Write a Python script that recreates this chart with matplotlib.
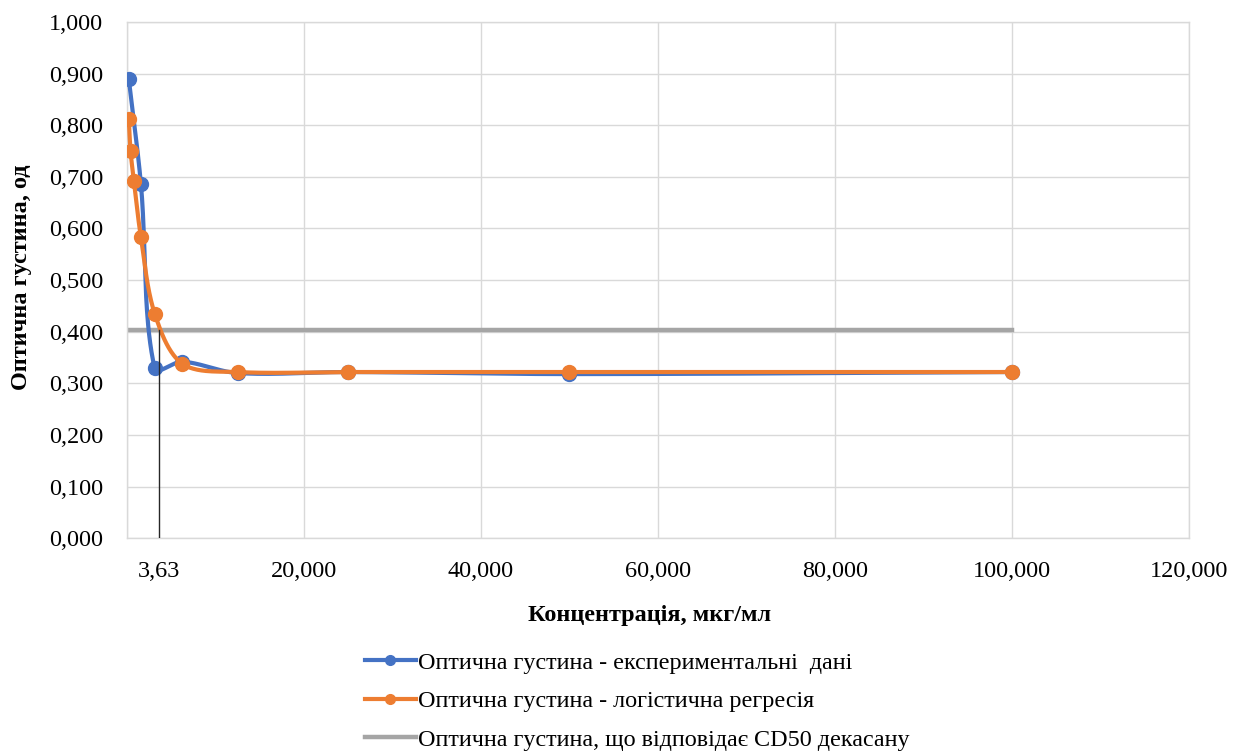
import matplotlib.pyplot as plt
import numpy as np
from matplotlib.ticker import FuncFormatter

plt.rcParams['font.family'] = ['Liberation Serif', 'DejaVu Serif']

# concentration, ug/ml and optical density
conc_exp = [0.195, 1.5625, 3.125, 6.25, 12.5, 25, 50, 100]
od_exp = [0.889, 0.686, 0.329, 0.342, 0.320, 0.322, 0.318, 0.322]

conc_fit = [0.195, 0.39, 0.78, 1.5625, 3.125, 6.25, 12.5, 25, 50, 100]
od_fit = [0.812, 0.750, 0.691, 0.583, 0.435, 0.338, 0.322, 0.322, 0.322, 0.322]

cd50_conc = 3.63
cd50_od = 0.404
cd50_range = [0, 100]

labels = [
    "Оптична густина - експериментальні  дані",
    "Оптична густина - логістична регресія",
    "Оптична густина, що відповідає CD50 декасану",
]

BLUE = "#4472C4"
ORANGE = "#ED7D31"
GRAY = "#A5A5A5"
GRID = "#D9D9D9"

# rough pixel size of one data unit, used only to weight the smoothing
PX = np.array([8.85, 517.0])


def smooth(x, y, n=40):
    """Smoothed line through the points (bezier, tangents weighted by chord length)."""
    p = np.column_stack([x, y]).astype(float)
    ext = np.vstack([p[0], p, p[-1]])
    out = []
    t = np.linspace(0, 1, n)[:, None]

    def ctrl(a, b, c, forward):
        la = np.linalg.norm((b - a) * PX)
        lc = np.linalg.norm((c - b) * PX)
        if la + lc == 0:
            return b
        w = (lc if forward else la) / (la + lc)
        d = (c - a) * w / 3
        return b + d if forward else b - d

    for i in range(len(p) - 1):
        p0, p1, p2, p3 = ext[i], ext[i + 1], ext[i + 2], ext[i + 3]
        c1 = ctrl(p0, p1, p2, True)
        c2 = ctrl(p1, p2, p3, False)
        seg = ((1 - t) ** 3) * p1 + 3 * ((1 - t) ** 2) * t * c1 \
            + 3 * (1 - t) * t ** 2 * c2 + t ** 3 * p2
        out.append(seg if i == 0 else seg[1:])
    s = np.vstack(out)
    return s[:, 0], s[:, 1]


def comma(v, pos=None):
    return f"{v:.3f}".replace(".", ",")


fig = plt.figure(figsize=(12.46, 7.55), dpi=100)
ax = fig.add_axes([0.102, 0.287, 0.852, 0.684])

ax.plot(cd50_range, [cd50_od, cd50_od], color=GRAY, lw=3.2, zorder=2)

sx, sy = smooth(conc_exp, od_exp)
ax.plot(sx, sy, color=BLUE, lw=3.0, zorder=3)
ax.plot(conc_exp, od_exp, "o", color=BLUE, ms=10, zorder=3)

sx, sy = smooth(conc_fit, od_fit)
ax.plot(sx, sy, color=ORANGE, lw=3.0, zorder=4)
ax.plot(conc_fit, od_fit, "o", color=ORANGE, ms=10, zorder=4)

ax.plot([cd50_conc, cd50_conc], [0, cd50_od], color="#262626", lw=1.0, zorder=5)

ax.set_xlim(0, 120)
ax.set_ylim(0, 1)
ax.set_xticks(np.arange(0, 121, 20))
ax.set_yticks(np.arange(0, 1.01, 0.1))
ax.xaxis.set_major_formatter(FuncFormatter(lambda v, p: "" if v == 0 else comma(v)))
ax.yaxis.set_major_formatter(FuncFormatter(comma))
ax.set_xticks([cd50_conc], labels=[f"{cd50_conc:.2f}".replace(".", ",")], minor=True)

ax.tick_params(axis="x", which="both", length=0, pad=16.5, labelsize=17.5)
ax.tick_params(axis="y", length=0, pad=17, labelsize=17.5)
ax.grid(True, which="major", color=GRID, lw=1.0)
for sp in ax.spines.values():
    sp.set_color(GRID)
    sp.set_linewidth(1.0)
ax.set_axisbelow(True)

fig.text(650 / 1246, 1 - 615 / 755, "Концентрація, мкг/мл", ha="center",
         va="center", fontsize=17.5, fontweight="bold")
fig.text(22 / 1246, 1 - 277 / 755, "Оптична густина, од", ha="center",
         va="center", rotation=90, fontsize=17.5, fontweight="bold")

handles = [
    plt.Line2D([], [], color=BLUE, lw=3.0, marker="o", ms=7),
    plt.Line2D([], [], color=ORANGE, lw=3.0, marker="o", ms=7),
    plt.Line2D([], [], color=GRAY, lw=3.2),
]
fig.legend(handles, labels, loc="upper left", bbox_to_anchor=(365 / 1246, 1 - 652 / 755),
           frameon=False, fontsize=17.4, handlelength=2.1, handletextpad=0.1,
           labelspacing=0.68, borderpad=0, borderaxespad=0)

fig.savefig("out.png", dpi=100)
